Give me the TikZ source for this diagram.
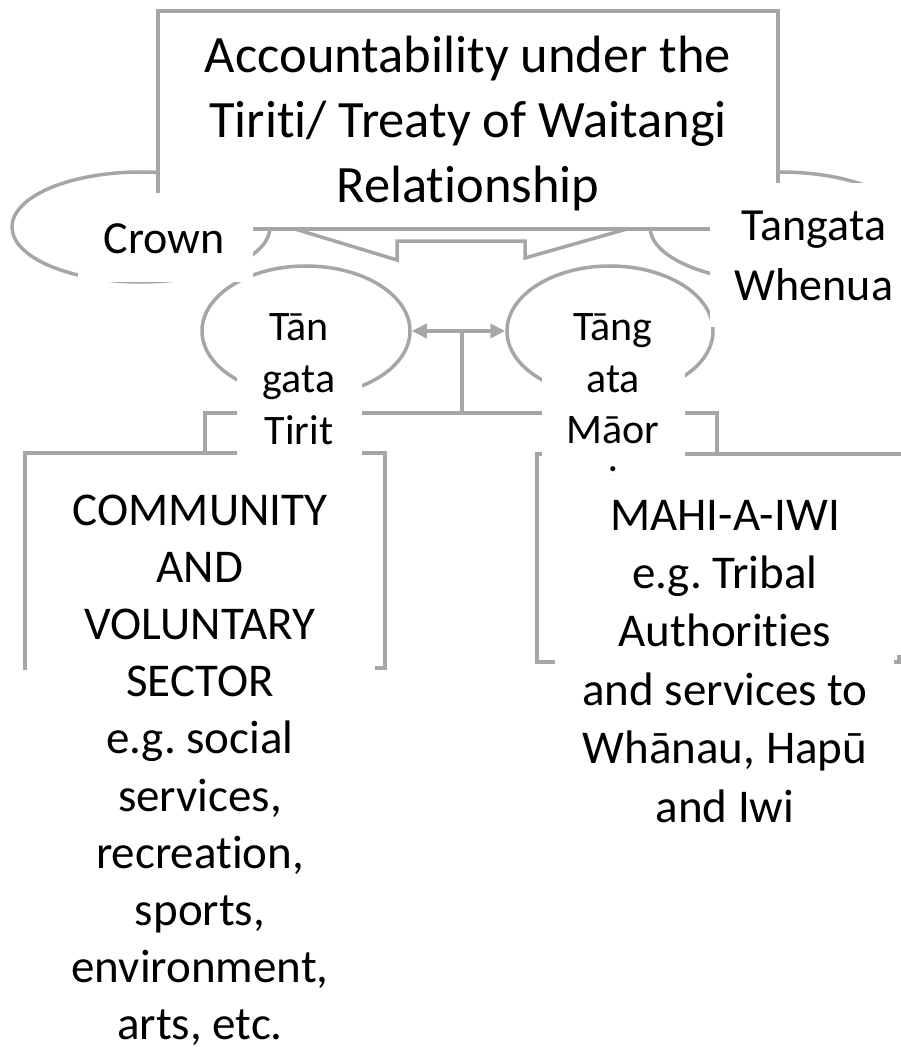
\documentclass[tikz,border=0pt]{standalone}
\usepackage{fontspec}
\setmainfont{Carlito}[Ligatures={NoCommon,NoContextual}]
\usetikzlibrary{shapes.geometric,arrows.meta}
\definecolor{lg}{HTML}{A6A6A6}
\tikzset{
  shp/.style={draw=lg, line width=3.5pt, fill=white},
  ell/.style={shp, ellipse, inner sep=0pt},
  edge/.style={draw=lg, line width=3.5pt, line join=miter},
  conn/.style={draw=lg, line width=4pt, line join=miter},
  big/.style={font=\fontsize{52.5}{64.5}\selectfont, anchor=base, inner sep=0pt},
  med/.style={font=\fontsize{46}{57}\selectfont, anchor=base, inner sep=0pt},
  boxt/.style={font=\fontsize{47}{57}\selectfont, anchor=base, inner sep=0pt},
  sml/.style={font=\fontsize{42}{52}\selectfont, anchor=base, inner sep=0pt},
  tip/.style={{Triangle[length=15pt,width=14pt]}-{Triangle[length=15pt,width=14pt]}},
}
\begin{document}
\frenchspacing
\begin{tikzpicture}[x=1pt,y=-1pt]
\fill[white] (0,0) rectangle (901,1051);
\useasboundingbox (0,0) rectangle (901,1051);

% ellipses
\node[ell, minimum width=258pt, minimum height=110pt] (crownE) at (141,227) {};
\node[ell, minimum width=260pt, minimum height=110pt] (whenuaE) at (780,227) {};
\node[ell, minimum width=208pt, minimum height=130pt] (tanE) at (306,331) {};
\node[ell, minimum width=206pt, minimum height=130pt] (tangE) at (610,331) {};

% top box and its notch
\draw[shp] (158,11) rectangle (778,229);
\draw[edge] (295,229) -- (397,260) -- (397,241) -- (525,241) -- (525,258) -- (627,229);

% arrow and connectors
\coordinate (mid) at (462,331);
\coordinate (jM) at (462,413);
\coordinate (jL) at (205,413);
\coordinate (jR) at (717,413);
\coordinate (bL) at (205,453);
\coordinate (bR) at (717,454);
\draw[conn, tip] (tanE.east) -- (tangE.west);
\draw[conn] (mid) -- (jM);
\draw[conn] (bL) -- (jL) -- (jR) -- (bR);

% lower boxes
\draw[edge] (25,453) rectangle (385,668);
\draw[edge] (555,662) -- (537,662) -- (537,454) -- (901,454);
\draw[edge] (899,655) -- (899,662) -- (894,662);

% lower texts
\fill[white] (27,478) rectangle (375,1048);
\node[boxt] (c1) at (200,525) {COMMUNITY};
\node[boxt] (c2) at (200,582.2) {AND};
\node[boxt] (c3) at (200,639.4) {VOLUNTARY};
\node[boxt] (c4) at (200,696.6) {SECTOR};
\node[boxt] (c5) at (200,753.8) {e.g. social};
\node[boxt] (c6) at (200,811) {services,};
\node[boxt] (c7) at (200,868.2) {recreation,};
\node[boxt] (c8) at (200,925.4) {sports,};
\node[boxt] (c9) at (200,982.6) {environment,};
\node[boxt] (c10) at (200,1039.8) {arts, etc.};

\node[boxt] (m1) at (725,530) {MAHI-A-IWI};
\node[boxt] (m2) at (725,588.4) {e.g. Tribal};
\node[boxt] (m3) at (725,646.8) {Authorities};
\node[boxt] (m4) at (725,705.2) {and services to};
\node[boxt] (m5) at (725,763.6) {Whānau, Hapū};
\node[boxt] (m6) at (725,822) {and Iwi};

% white label backgrounds
\fill[white] (78,193) rectangle (253,281.5);
\fill[white] (710,183) rectangle (901,327);
\fill[white] (237,290) rectangle (362,458);
\fill[white] (542,290) rectangle (685,474);

% top box text
\node[big] (t1) at (468,73) {Accountability under the};
\node[big] (t2) at (468,137.5) {Tiriti/ Treaty of Waitangi};
\node[big] (t3) at (468,202) {Relationship};

% side labels
\node[med] (crown) at (164,253) {Crown};
\node[med] (tw1) at (814,240) {Tangata};
\node[med] (tw2) at (814,300) {Whenua};

% middle labels
\node[sml] (a1) at (299,340) {Tān};
\node[sml] (a2) at (299,392.5) {gata};
\node[sml] (a3) at (299,444) {Tirit};
\node[sml] (b1) at (613,340) {Tāng};
\node[sml] (b2) at (613,392.5) {ata};
\node[sml] (b3) at (613,443) {Māor};
\begin{scope}
\clip (542,290) rectangle (685,474);
\node[sml, text height=29pt, text depth=-21pt] (b4) at (613,495) {i};
\end{scope}
\end{tikzpicture}
\end{document}
